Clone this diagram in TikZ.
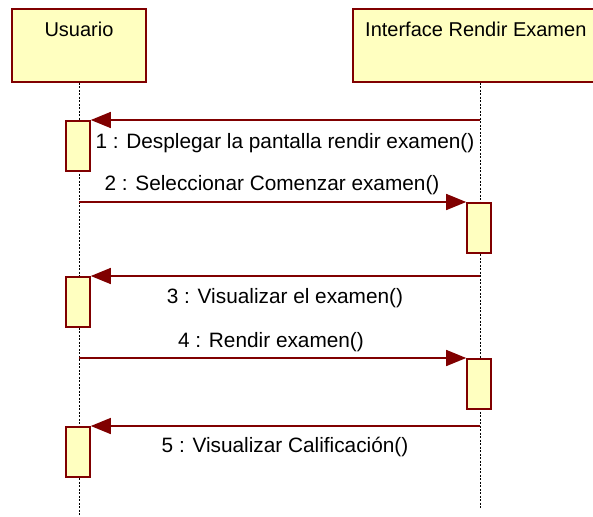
\documentclass[tikz,border=0pt]{standalone}
\usepackage{fontspec}
\setmainfont{Liberation Sans}
\usetikzlibrary{
    arrows.meta,
    positioning
}
\definecolor{umlRed}{RGB}{128,0,0}
\definecolor{umlYellow}{RGB}{255,255,192}
\tikzset{
  head/.style    = {draw=umlRed, fill=umlYellow, line width=1.6pt,
                    minimum height=73pt, anchor=north, inner sep=0pt},
  headtxt/.style = {font=\fontsize{20pt}{24pt}\selectfont, inner sep=0pt},
  act/.style     = {draw=umlRed, fill=umlYellow, line width=1.6pt,
                    minimum width=24pt, minimum height=50pt, anchor=north,
                    inner sep=0pt},
  life/.style    = {black, line width=1pt, dash pattern=on 2pt off 1.5pt},
  msg/.style     = {-{Triangle[length=20pt,width=16pt]}, umlRed, line width=1.4pt},
  lbl/.style     = {font=\fontsize{20.8pt}{24pt}\selectfont, inner sep=0pt}
}

\begin{document}
\begin{tikzpicture}[x=1pt,y=-1pt]
\useasboundingbox (0,0) rectangle (593,516);
\clip (0,0) rectangle (593,516);
% objects
\node[head, minimum width=134pt] (usr) at (79,8) {};
\node[headtxt] (usrT) at (79,29) {Usuario};
\node[head, minimum width=254pt] (gui) at (480,8) {};
\node[headtxt, anchor=west] (guiT) at (365,29) {Interface Rendir Examen};
% lifelines
\coordinate (usrEnd) at (79,516);
\coordinate (guiEnd) at (480,508);
\draw[life] (usr.south) -- (usrEnd);
\draw[life] (gui.south) -- (guiEnd);
% activations
\node[act] (u1) at (78,120) {};
\node[act] (g1) at (479,202) {};
\node[act] (u2) at (78,276) {};
\node[act] (g2) at (479,358) {};
\node[act] (u3) at (78,426) {};
% messages
\coordinate (gm1) at (480,120);
\coordinate (um2) at (79,202);
\coordinate (gm3) at (480,276);
\coordinate (um4) at (79,358);
\coordinate (gm5) at (480,426);
\draw[msg] (gm1) -- (u1.north east);
\draw[msg] (um2) -- (g1.north west);
\draw[msg] (gm3) -- (u2.north east);
\draw[msg] (um4) -- (g2.north west);
\draw[msg] (gm5) -- (u3.north east);
\node[lbl] (m1) at (285,143) {1 : Desplegar la pantalla rendir examen()};
\node[lbl] (m2) at (272,185) {2 : Seleccionar Comenzar examen()};
\node[lbl] (m3) at (285,298) {3 : Visualizar el examen()};
\node[lbl] (m4) at (271,342) {4 : Rendir examen()};
\node[lbl] (m5) at (285,447) {5 : Visualizar Calificación()};
\end{tikzpicture}
\end{document}
